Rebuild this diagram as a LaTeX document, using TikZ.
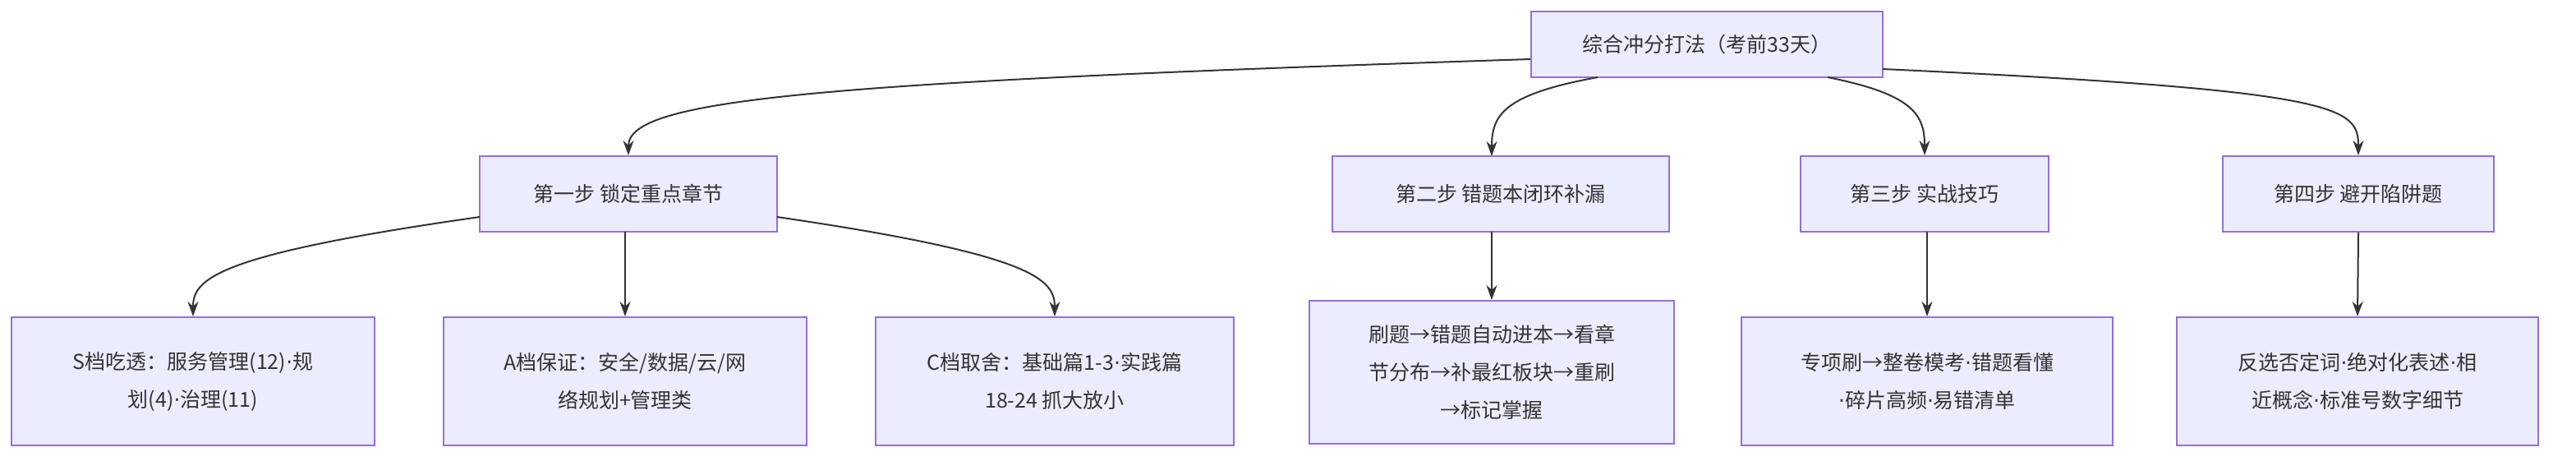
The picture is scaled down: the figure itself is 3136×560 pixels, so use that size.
\documentclass[tikz,border=0pt]{standalone}
\usepackage{fontspec}
\setmainfont{Noto Sans CJK SC}
\newfontfamily\latdot{DejaVu Sans}
\newcommand{\md}{{\latdot ·}}
\usetikzlibrary{arrows.meta}
\definecolor{bx}{HTML}{ECECFF}
\definecolor{bd}{HTML}{9370DB}
\definecolor{ln}{HTML}{333333}
\begin{document}
\begin{tikzpicture}[x=1pt,y=-1pt,
  box/.style={draw=bd,fill=bx,line width=2pt,rectangle,align=center,text=ln,font=\fontsize{25}{46}\selectfont,inner sep=0pt},
  ar/.style={draw=ln,line width=2pt,-{Stealth[length=18pt,width=13pt]}}]
\useasboundingbox (0,0) rectangle (3136,560);
\node[box,minimum width=428,minimum height=80] (root) at (2078,54) {综合冲分打法（考前33天）};
\node[box,minimum width=362,minimum height=92] (s1) at (765,236) {第一步 锁定重点章节};
\node[box,minimum width=410,minimum height=92] (s2) at (1827,236) {第二步 错题本闭环补漏};
\node[box,minimum width=302,minimum height=92] (s3) at (2343,236) {第三步 实战技巧};
\node[box,minimum width=330,minimum height=92] (s4) at (2871,236) {第四步 避开陷阱题};
\node[box,minimum width=442,minimum height=156] (sa) at (235,464) {S档吃透：服务管理(12)\md 规\\划(4)\md 治理(11)};
\node[box,minimum width=442,minimum height=156] (aa) at (761,464) {A档保证：安全/数据/云/网\\络规划+管理类};
\node[box,minimum width=436,minimum height=156] (ca) at (1284,464) {C档取舍：基础篇1-3\md 实践篇\\18-24 抓大放小};
\node[box,minimum width=444,minimum height=174] (c2) at (1816,453) {刷题→错题自动进本→看章\\节分布→补最红板块→重刷\\→标记掌握};
\node[box,minimum width=452,minimum height=156] (c3) at (2346,464) {专项刷→整卷模考\md 错题看懂\\\md 碎片高频\md 易错清单};
\node[box,minimum width=440,minimum height=156] (c4) at (2870,464) {反选否定词\md 绝对化表述\md 相\\近概念\md 标准号数字细节};
\draw[ar] (root.west|-0,72) .. controls (1000,100) and (765,120) .. (s1.north);
\draw[ar] (1945,94) .. controls (1830,115) and (1816,140) .. (1816,190);
\draw[ar] (2225,94) .. controls (2330,115) and (2343,140) .. (s3.north);
\draw[ar] (2292,84) .. controls (2850,110) and (2871,130) .. (s4.north);
\draw[ar] (584,264) .. controls (260,310) and (235,340) .. (sa.north);
\draw[ar] (761,282) -- (aa.north);
\draw[ar] (946,264) .. controls (1260,310) and (1284,340) .. (ca.north);
\draw[ar] (1816,282) -- (c2.north);
\draw[ar] (2346,282) -- (c3.north);
\draw[ar] (s4.south) -- (c4.north);
\end{tikzpicture}
\end{document}
